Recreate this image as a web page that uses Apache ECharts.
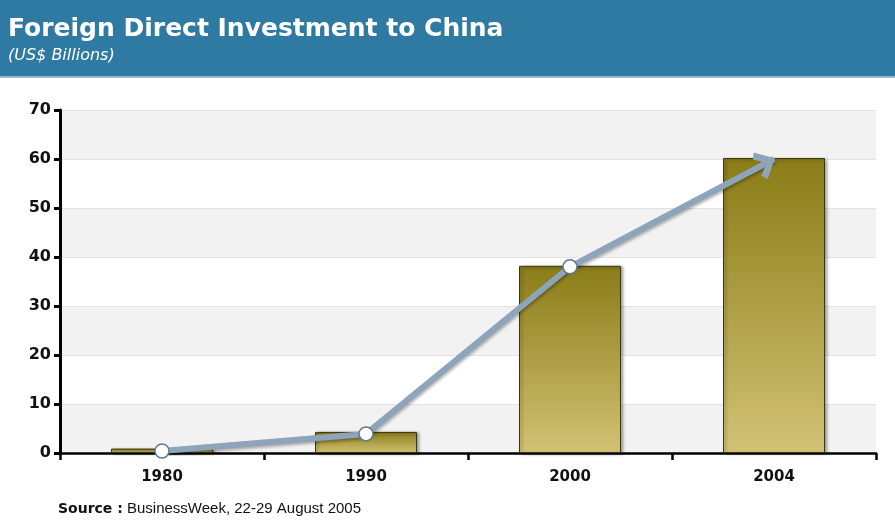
<!DOCTYPE html>
<html lang="en">
<head>
    <meta charset="utf-8">
    <title>Foreign Direct Investment to China</title>
    <script src="https://cdn.jsdelivr.net/npm/echarts@6/dist/echarts.min.js"></script>
    <style>
        html, body { margin: 0; padding: 0; background: #fff; }
        #chart { width: 895px; height: 525px; }
    </style>
</head>
<body>
<div id="chart"></div>
<script type="text/javascript">
    // values
    var years = ['1980', '1990', '2000', '2004'];
    var barValues = [0.9, 4.3, 38.2, 60.2];
    var trendValues = [0.4, 3.9, 38.0, 60.0];
    var yTicks = [0, 10, 20, 30, 40, 50, 60, 70];

    var lineColor = '#8ea4ba';
    // open arrow head, tip at top centre
    var arrowPath = 'path://M10,0 L20,12 L16,15 L10,7 L4,15 L0,12 Z';

    var chart = echarts.init(document.getElementById('chart'));

    chart.setOption({
        animation: false,
        backgroundColor: '#ffffff',
        graphic: [
            {
                type: 'rect',
                left: 0, top: 0,
                shape: { width: 895, height: 76 },
                style: { fill: '#2e7aa3' }
            },
            {
                type: 'rect',
                left: 0, top: 76,
                shape: { width: 895, height: 2 },
                style: { fill: '#8fb9d0' }
            },
            {
                type: 'text',
                left: 8, top: 17,
                style: {
                    text: 'Foreign Direct Investment to China',
                    fill: '#ffffff',
                    font: 'bold 25px "DejaVu Sans", Verdana, sans-serif'
                }
            },
            {
                type: 'text',
                left: 8, top: 48,
                style: {
                    text: '(US$ Billions)',
                    fill: '#ffffff',
                    font: 'italic 16px "DejaVu Sans", Verdana, sans-serif'
                }
            },
            {
                type: 'text',
                left: 58, top: 502,
                style: {
                    text: 'Source :',
                    fill: '#111',
                    font: 'bold 14px "DejaVu Sans", Verdana, sans-serif'
                }
            },
            {
                type: 'text',
                left: 127, top: 501,
                style: {
                    text: 'BusinessWeek, 22-29 August 2005',
                    fill: '#111',
                    font: '15px "Liberation Sans", Arial, sans-serif'
                }
            }
        ],
        grid: {
            left: 60,
            right: 19,
            top: 110,
            bottom: 72,
            containLabel: false
        },
        xAxis: {
            type: 'category',
            data: years,
            boundaryGap: true,
            axisLine: { lineStyle: { color: '#000', width: 2.5 } },
            axisTick: { show: true, length: 7, lineStyle: { color: '#000', width: 2.5 } },
            axisLabel: {
                color: '#111',
                fontWeight: 'bold',
                fontSize: 15,
                fontFamily: '"DejaVu Sans", Verdana, sans-serif',
                margin: 17
            },
            splitLine: { show: false }
        },
        yAxis: {
            type: 'value',
            min: yTicks[0],
            max: yTicks[yTicks.length - 1],
            interval: 10,
            axisLine: { show: true, lineStyle: { color: '#000', width: 3 } },
            axisTick: { show: true, length: 6, lineStyle: { color: '#000', width: 3 } },
            axisLabel: {
                color: '#111',
                fontWeight: 'bold',
                fontSize: 16,
                fontFamily: '"DejaVu Sans", Verdana, sans-serif',
                margin: 9
            },
            splitLine: { show: true, lineStyle: { color: '#e2e2e2', width: 1 } },
            splitArea: { show: true, areaStyle: { color: ['#f2f2f2', '#ffffff'] } }
        },
        series: [
            {
                type: 'bar',
                data: barValues,
                barWidth: '50%',
                itemStyle: {
                    color: new echarts.graphic.LinearGradient(0, 0, 0, 1, [
                        { offset: 0, color: '#8a7c17' },
                        { offset: 1, color: '#d2c275' }
                    ]),
                    borderColor: '#3b3510',
                    borderWidth: 1,
                    shadowColor: 'rgba(0,0,0,0.35)',
                    shadowBlur: 3,
                    shadowOffsetX: 2,
                    shadowOffsetY: 1
                },
                z: 2
            },
            {
                type: 'line',
                lineStyle: {
                    color: lineColor,
                    width: 6,
                    shadowColor: 'rgba(0,0,0,0.3)',
                    shadowBlur: 3,
                    shadowOffsetX: 1,
                    shadowOffsetY: 2
                },
                showAllSymbol: true,
                symbol: function (value, params) {
                    return params.dataIndex === trendValues.length - 1 ? arrowPath : 'circle';
                },
                symbolSize: function (value, params) {
                    return params.dataIndex === trendValues.length - 1 ? [30, 20] : 14;
                },
                symbolKeepAspect: false,
                itemStyle: {
                    color: '#ffffff',
                    borderColor: '#5d7894',
                    borderWidth: 1.5
                },
                data: trendValues.map(function (v, i) {
                    if (i === trendValues.length - 1) {
                        return {
                            value: v,
                            symbolRotate: -62,
                            symbolOffset: [-8, 4],
                            itemStyle: { color: lineColor, borderColor: lineColor, borderWidth: 0 }
                        };
                    }
                    return v;
                }),
                z: 3
            }
        ]
    });
</script>
</body>
</html>
